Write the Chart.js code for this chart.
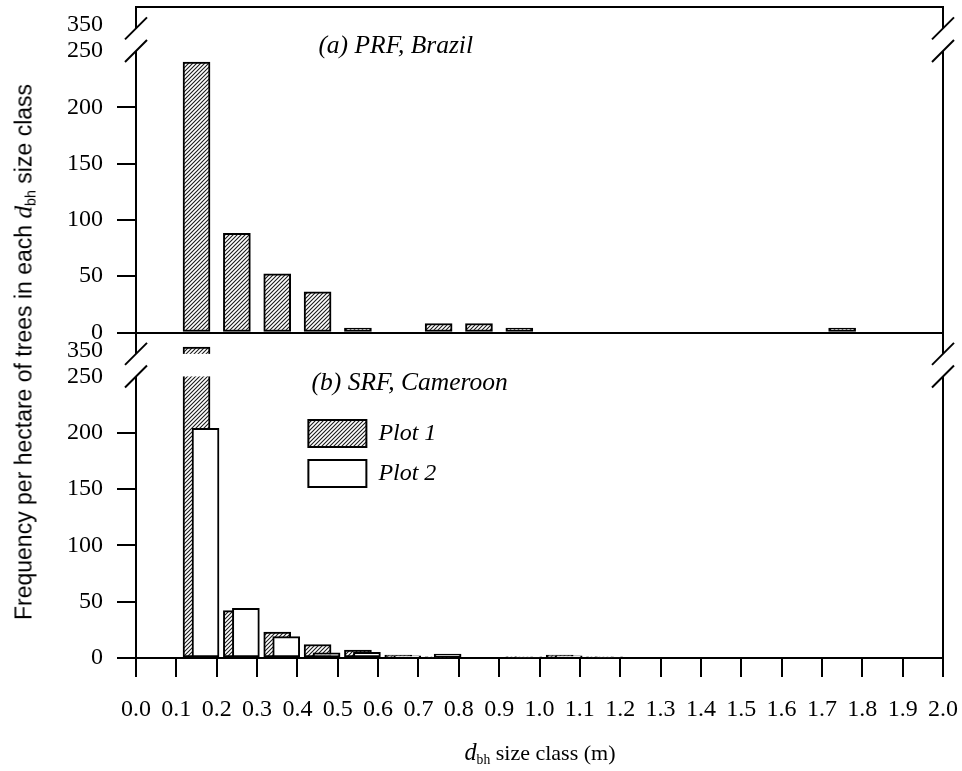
<!DOCTYPE html>
<html>
<head>
<meta charset="utf-8">
<script src="https://cdn.jsdelivr.net/npm/chart.js@4.4.1/dist/chart.umd.min.js"></script>
<style>
html,body{margin:0;padding:0;background:#fff;}
#wrap{position:relative;width:962px;height:771px;overflow:hidden;}
canvas{position:absolute;left:0;top:0;}
.ytitle{position:absolute;left:23px;top:352px;transform:translate(-50%,-50%) rotate(-90deg);white-space:nowrap;font-family:'Liberation Sans Narrow','Liberation Sans',sans-serif;font-size:23px;color:#000;}
.xtitle{position:absolute;left:540px;top:752px;transform:translate(-50%,-50%);white-space:nowrap;font-family:'Liberation Serif',serif;font-size:22px;color:#000;}
.d{font-family:'Liberation Serif',serif;font-style:italic;font-size:1.1em;}
sub{font-size:0.62em;vertical-align:-0.3em;line-height:0;}
</style>
</head>
<body>
<div id="wrap">
<canvas id="c" width="962" height="771"></canvas>
<div class="ytitle">Frequency per hectare of trees in each <span class="d">d</span><sub>bh</sub> size class</div>
<div class="xtitle"><span class="d">d</span><sub>bh</sub> size class (m)</div>
</div>
<script>
// ---- data ----
const sizeClasses = [0.05,0.15,0.25,0.35,0.45,0.55,0.65,0.75,0.85,0.95,1.05,1.15,1.25,1.35,1.45,1.55,1.65,1.75,1.85,1.95];
const prfPlot1 = [null,240,88,52,36,4,null,8,8,4,null,null,null,null,null,null,null,4,null,null];
const srfPlot1 = [null,353,42,23,12,7,2.5,1,null,1,2.5,1,null,null,null,null,null,null,null,null];
const srfPlot2 = [null,204,44,19,4.5,5,2,3.5,null,1,2,1,null,null,null,null,null,null,null,null];
const seriesLabels = ['Plot 1','Plot 2'];
const panelTitles = ['(a) PRF, Brazil','(b) SRF, Cameroon'];
const xTickValues = [0,0.1,0.2,0.3,0.4,0.5,0.6,0.7,0.8,0.9,1.0,1.1,1.2,1.3,1.4,1.5,1.6,1.7,1.8,1.9,2.0];
const xTickLabels = ['0.0','0.1','0.2','0.3','0.4','0.5','0.6','0.7','0.8','0.9','1.0','1.1','1.2','1.3','1.4','1.5','1.6','1.7','1.8','1.9','2.0'];
const yTickValues = [0,50,100,150,200,250,350];

// ---- broken-axis mapping (axis values 250..347 are cut out) ----
const BREAK_LOW = 250, BREAK_HIGH = 347, AXIS_TOP = 366;
const brk = v => (v <= BREAK_LOW ? v : v - (BREAK_HIGH - BREAK_LOW - 20));
const T_LOW = brk(BREAK_LOW), T_HIGH = BREAK_LOW + 20, T_MAX = brk(AXIS_TOP);

const SERIF = "'Liberation Serif', 'Times New Roman', serif";
Chart.defaults.font.family = SERIF;
Chart.defaults.color = '#000';

const canvas = document.getElementById('c');
const ctx0 = canvas.getContext('2d');
function hatchPattern() {
  const c = document.createElement('canvas');
  c.width = 4; c.height = 4;
  const g = c.getContext('2d');
  g.fillStyle = '#fff'; g.fillRect(0, 0, 4, 4);
  g.strokeStyle = '#1a1a1a'; g.lineWidth = 1.1;
  g.beginPath();
  g.moveTo(0, 4); g.lineTo(4, 0);
  g.moveTo(-1, 1); g.lineTo(1, -1);
  g.moveTo(3, 5); g.lineTo(5, 3);
  g.stroke();
  return ctx0.createPattern(c, 'repeat');
}
const hatch = hatchPattern();

const toPoints = arr => sizeClasses.map((x, i) => ({x, y: arr[i] == null ? null : brk(arr[i])}));

const barCommon = {
  barThickness: 27,
  grouped: false,
  borderColor: '#000',
  borderWidth: 2,
  borderSkipped: false
};

const yTicksFor = () => ({
  font: {size: 24, family: SERIF},
  color: '#000',
  padding: 14,
  autoSkip: false,
  callback: (v, i) => String(yTickValues[i])
});
const yGrid = (showZero) => ({
  drawOnChartArea: true,
  lineWidth: 2,
  tickLength: 19,
  tickWidth: 2,
  color: c => (showZero && c.tick && c.tick.value === 0) ? '#000' : 'rgba(0,0,0,0)',
  tickColor: c => (c.tick && (c.tick.value === T_LOW || c.tick.value === brk(350))) ? 'rgba(0,0,0,0)' : '#000'
});
const yAxis = (showZero) => ({
  type: 'linear',
  position: 'left',
  stack: 'panels',
  stackWeight: 1,
  min: 0,
  max: T_MAX,
  afterBuildTicks: s => { s.ticks = yTickValues.map(v => ({value: brk(v)})); },
  afterFit: s => { s.width = 136; s.paddingTop = 0; s.paddingBottom = 0; },
  ticks: yTicksFor(),
  grid: yGrid(showZero),
  border: {display: true, color: '#000', width: 2}
});

const breakDeco = {
  id: 'breakDeco',
  afterLayout(chart) {
    const lg = chart.legend;
    if (!lg) return;
    const pad = lg.options.labels.padding;
    const x = chart.scales.x.getPixelForValue(0.4272);
    const y = chart.scales.yBot.getPixelForValue(211.3);
    lg.left = x - pad; lg.top = y - pad;
    lg.right = lg.left + lg.width; lg.bottom = chart.chartArea.bottom;
  },
  afterDatasetsDraw(chart) {
    const {ctx, chartArea: a, scales} = chart;
    ctx.save();
    ctx.strokeStyle = '#000';
    ctx.lineWidth = 2;
    ctx.beginPath();
    ctx.moveTo(a.left - 1, a.top); ctx.lineTo(a.right, a.top); ctx.lineTo(a.right, a.bottom);
    ctx.stroke();
    ['yTop', 'yBot'].forEach((id, k) => {
      const s = scales[id];
      const yLow = s.getPixelForValue(T_LOW);
      const yHigh = s.getPixelForValue(T_HIGH);
      ctx.fillStyle = '#fff';
      ctx.fillRect(a.left - 3, yHigh, a.right - a.left + 6, yLow - yHigh);
      ctx.strokeStyle = '#000';
      ctx.lineWidth = 2;
      [a.left, a.right].forEach(x => {
        [yLow, yHigh].forEach(y => {
          ctx.beginPath();
          ctx.moveTo(x - 11, y + 11);
          ctx.lineTo(x + 11, y - 11);
          ctx.stroke();
        });
      });
      const pos = chart.options.plugins.breakDeco.titles[k];
      ctx.fillStyle = '#000';
      ctx.font = 'italic 25.5px ' + SERIF;
      ctx.textAlign = 'left';
      ctx.textBaseline = 'middle';
      ctx.fillText(panelTitles[k], scales.x.getPixelForValue(pos.x), s.getPixelForValue(pos.t));
    });
    ctx.restore();
  }
};

new Chart(canvas, {
  type: 'bar',
  data: {
    datasets: [
      Object.assign({label: seriesLabels[0], data: toPoints(prfPlot1), xAxisID: 'x', yAxisID: 'yTop', backgroundColor: hatch, order: 1}, barCommon),
      Object.assign({label: seriesLabels[0], data: toPoints(srfPlot1), xAxisID: 'x', yAxisID: 'yBot', backgroundColor: hatch, order: 1}, barCommon),
      Object.assign({label: seriesLabels[1], data: toPoints(srfPlot2), xAxisID: 'x2', yAxisID: 'yBot', backgroundColor: '#fff', order: 0}, barCommon)
    ]
  },
  options: {
    responsive: false,
    maintainAspectRatio: false,
    animation: false,
    devicePixelRatio: 1,
    layout: {padding: {left: 0, top: 7, right: 19, bottom: 0}},
    scales: {
      x: {
        type: 'linear',
        position: 'bottom',
        offset: false,
        min: 0,
        max: 2,
        afterBuildTicks: s => { s.ticks = xTickValues.map(v => ({value: v})); },
        afterFit: s => { s.height = 113; s.paddingLeft = 0; s.paddingRight = 0; },
        ticks: {font: {size: 24, family: SERIF}, color: '#000', padding: 18, autoSkip: false, maxRotation: 0,
                callback: (v, i) => xTickLabels[i]},
        grid: {offset: false, drawOnChartArea: false, tickLength: 19, tickWidth: 2, lineWidth: 2, color: '#000'},
        border: {display: true, color: '#000', width: 2}
      },
      x2: {
        type: 'linear',
        position: 'bottom',
        display: false,
        offset: false,
        grid: {offset: false},
        min: -0.0223,
        max: 2 - 0.0223
      },
      yBot: yAxis(false),
      yTop: yAxis(true)
    },
    plugins: {
      legend: {
        position: 'chartArea',
        align: 'start',
        labels: {
          boxWidth: 58,
          boxHeight: 27,
          padding: 13,
          color: '#000',
          font: {size: 24, style: 'italic', family: SERIF},
          filter: item => item.datasetIndex > 0,
          sort: (a, b) => a.datasetIndex - b.datasetIndex
        }
      },
      tooltip: {enabled: false},
      breakDeco: {
        titles: [{x: 0.452, t: 254}, {x: 0.435, t: 244}]
      }
    }
  },
  plugins: [breakDeco]
});
</script>
</body>
</html>
